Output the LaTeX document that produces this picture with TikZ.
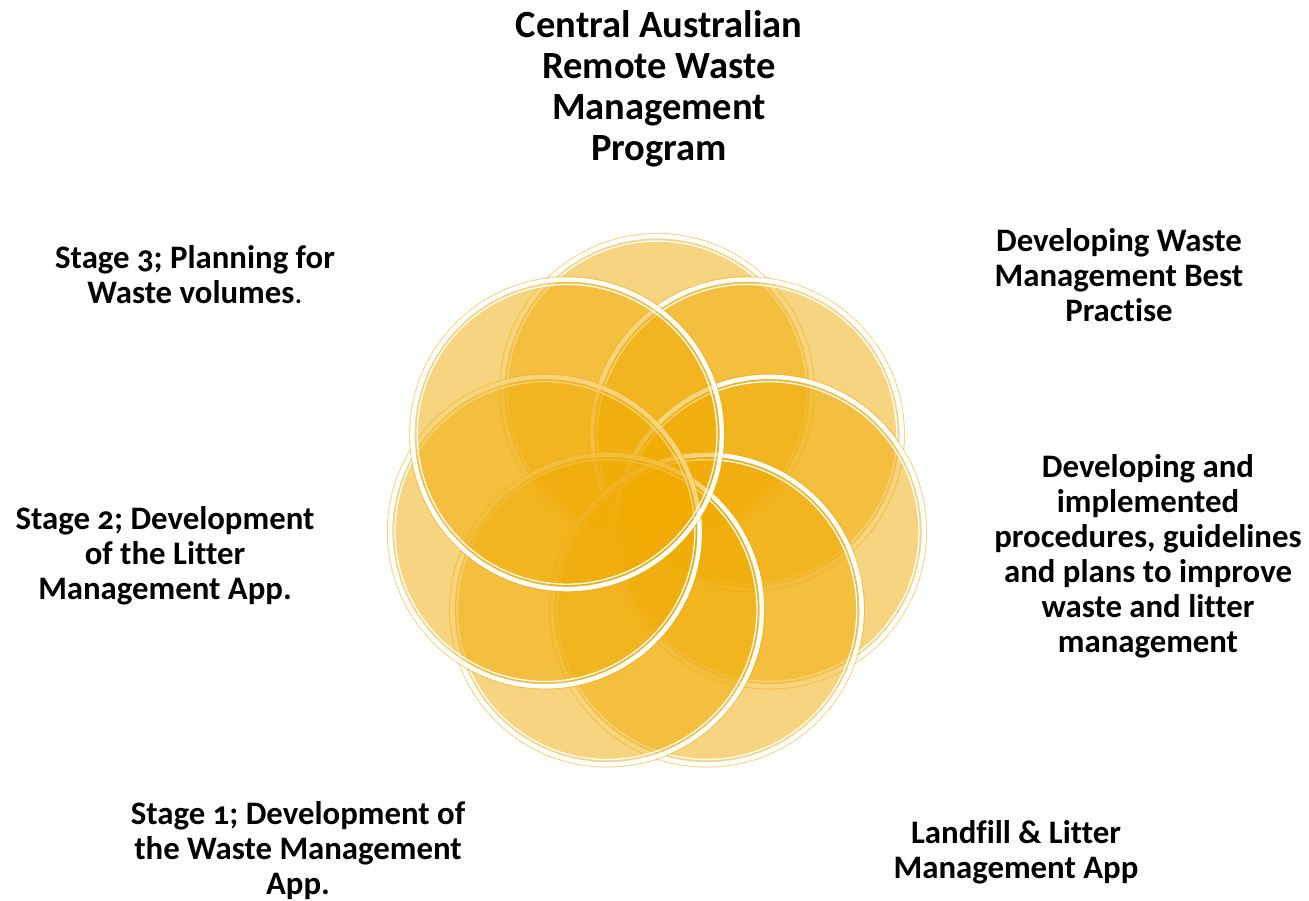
\documentclass[tikz,border=0pt]{standalone}
\usepackage{fontspec}
\setmainfont{Carlito}[Numbers=OldStyle, Ligatures=CommonOff]
\definecolor{gold}{RGB}{240,170,0}
\tikzset{
  disc/.style={circle, inner sep=0pt, minimum size=316pt, fill=gold, fill opacity=0.5, draw=none},
  rimthick/.style={draw=white, line width=4.5pt},
  rimthin/.style={draw=white, line width=1.3pt},
  lbl/.style={align=center, text=black, font=\bfseries\fontsize{32.8}{35}\selectfont, inner sep=0pt},
  ttl/.style={align=center, text=black, font=\bfseries\fontsize{38.5}{41}\selectfont, inner sep=0pt}
}
\begin{document}
\begin{tikzpicture}[x=1pt,y=-1pt]
\useasboundingbox (0,0) rectangle (1309,901);
\foreach \k in {0,...,6} {
  \pgfmathsetmacro\ang{90-\k*360/7}
  \node[disc] (c\k) at ({657+115*cos(\ang)},{506-115*sin(\ang)}) {};
  \draw[rimthick] (c\k.center) circle[radius=154.75pt];
  \draw[rimthin] (c\k.center) circle[radius=149.9pt];
}
\node[ttl] (title) at (659,89) {Central Australian\\Remote Waste\\Management\\Program};
\node[lbl] (best) at (1119,275) {Developing Waste\\Management Best\\Practise};
\node[lbl] (proc) at (1148,556) {Developing and\\implemented\\procedures, guidelines\\and plans to improve\\waste and litter\\management};
\node[lbl] (land) at (1016,852) {Landfill \& Litter\\Management App};
\node[lbl] (st1) at (298,851) {Stage 1; Development of\\the Waste Management\\App.};
\node[lbl] (st2) at (165,556) {Stage 2; Development\\of the Litter\\Management App.};
\node[lbl] (st3) at (195,275) {Stage 3; Planning for\\Waste volumes{\mdseries.}};
\end{tikzpicture}
\end{document}
